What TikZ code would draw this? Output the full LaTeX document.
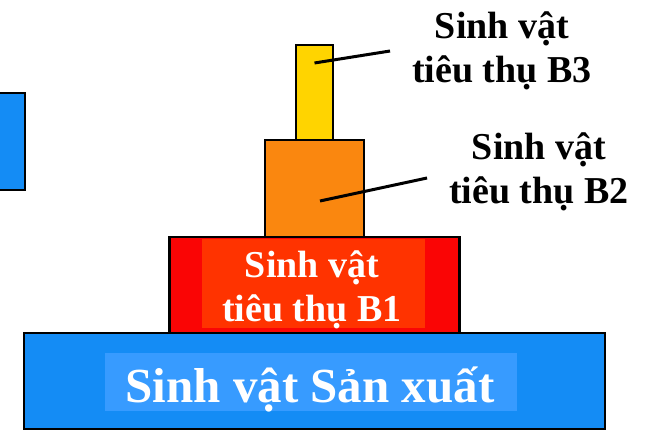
\documentclass[tikz,border=0pt]{standalone}
\usepackage{fontspec}
\setmainfont{Liberation Serif}
\usetikzlibrary{positioning}
\definecolor{prodblue}{RGB}{20,140,245}
\definecolor{labelblue}{RGB}{55,155,255}
\definecolor{bonered}{RGB}{250,5,5}
\definecolor{labelred}{RGB}{255,51,0}
\definecolor{btwoorange}{RGB}{250,135,15}
\definecolor{bthreeyellow}{RGB}{255,212,0}

\begin{document}
\begin{tikzpicture}[
  x=1pt, y=1pt,
  level/.style={
    draw=black,
    rectangle,
    line width=2.8pt,
    outer sep=0pt,
    inner sep=0pt
  },
  tagbox/.style={
    rectangle,
    inner sep=0pt
  },
  tagtext/.style={
    align=center,
    inner sep=0pt,
    text=white,
    font=\bfseries\fontsize{38}{44}\selectfont
  },
  side/.style={
    align=center,
    inner sep=2pt,
    font=\bfseries\fontsize{38}{44}\selectfont
  },
  leader/.style={line width=3pt}
]
\useasboundingbox (0,0) rectangle (648,-430);
\clip (0,0) rectangle (648,-430);

% Pyramid levels, bottom to top
\node[level, fill=prodblue, minimum width=581pt, minimum height=96pt] (prod) at (314.5,-381) {};
\node[level, fill=bonered, minimum width=290pt, minimum height=96pt, above=0pt of prod] (bone) {};
\node[level, fill=btwoorange, minimum width=99pt, minimum height=97pt, above=0pt of bone] (btwo) {};
\node[level, fill=bthreeyellow, minimum width=37pt, minimum height=95pt, above=0pt of btwo] (bthree) {};

% Cut-off block at the left edge
\node[level, fill=prodblue, minimum width=40pt, minimum height=97pt] (edge) at (5,-141.5) {};

% Labels inside the levels
\node[tagbox, fill=labelred, minimum width=223pt, minimum height=89pt] (bonebox) at (313.5,-283.5) {};
\node[tagtext] (bonetag) at (312,-290) {Sinh vật\\tiêu thụ B1};
\node[tagbox, fill=labelblue, minimum width=412pt, minimum height=58pt] (prodbox) at (311,-382) {};
\node[tagtext, anchor=base, font=\bfseries\fontsize{49}{49}\selectfont] (prodtag) at (310,-402) {Sinh vật Sản xuất};

% Labels on the right
\node[side] (bthreetag) at (502,-51) {Sinh vật\\tiêu thụ B3};
\node[side] (btwotag) at (539,-172) {Sinh vật\\tiêu thụ B2};

% Leaders
\draw[leader] ([yshift=29.5pt]bthree.center) -- ([xshift=-20pt]bthreetag.west);
\draw[leader] ([xshift=5.5pt,yshift=-12.5pt]btwo.center) -- ([xshift=-20pt,yshift=-6pt]btwotag.west);

\end{tikzpicture}
\end{document}
